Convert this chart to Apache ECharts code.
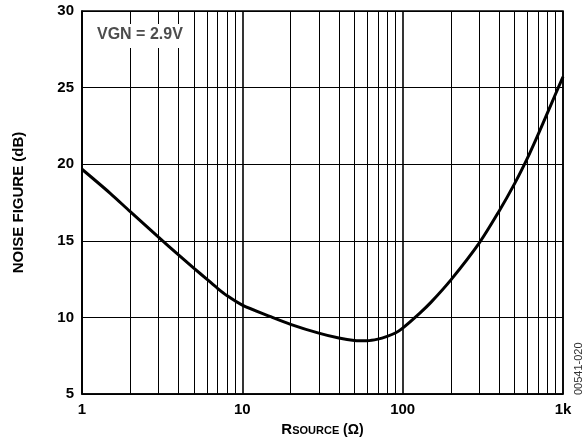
<!DOCTYPE html>
<html>
<head>
<meta charset="utf-8">
<script src="https://cdn.jsdelivr.net/npm/echarts@6/dist/echarts.min.js"></script>
<style>
html,body{margin:0;padding:0;background:#fff;}
#chart{width:584px;height:443px;}
</style>
</head>
<body>
<div id="chart"></div>
<script>
// Data
const rSource = [1, 1.5, 2, 3, 4, 5, 6, 7, 8, 10, 15, 20, 30, 40, 50, 60, 70, 80, 90, 100, 128, 150, 200, 300, 400, 500, 600, 700, 800, 900, 1000];
const noiseFigure = [19.67, 18.1, 16.9, 15.24, 14.08, 13.2, 12.5, 11.9, 11.43, 10.8, 10.05, 9.55, 8.97, 8.65, 8.5, 8.48, 8.58, 8.76, 8.98, 9.3, 10.28, 10.98, 12.45, 14.85, 16.95, 18.75, 20.4, 21.95, 23.35, 24.6, 25.7];
const minorGridX = [2,3,4,5,6,7,8,9,20,30,40,50,60,70,80,90,200,300,400,500,600,700,800,900];
const xTickLabels = {1: '1', 10: '10', 100: '100', 1000: '1k'};
const yTicks = [5, 10, 15, 20, 25, 30];

const font = 'Liberation Sans, Arial, sans-serif';
const chart = echarts.init(document.getElementById('chart'), null, {renderer: 'canvas'});
chart.setOption({
  animation: false,
  backgroundColor: '#fff',
  grid: {left: 82, right: 21, top: 11, bottom: 49, show: true, borderColor: '#000', borderWidth: 1.5, containLabel: false},
  xAxis: {
    type: 'log', logBase: 10, min: 1, max: 1000,
    axisLine: {show: true, lineStyle: {color: '#000', width: 1.5}},
    axisTick: {show: false},
    splitLine: {show: true, lineStyle: {color: '#000', width: 1.6}},
    axisLabel: {
      color: '#000', fontFamily: font, fontWeight: 'bold', fontSize: 15, margin: 8,
      formatter: v => xTickLabels[Math.round(v)] || ''
    },
    name: '{r|R}{s|SOURCE}{o| (Ω)}',
    nameLocation: 'middle', nameGap: 25,
    nameTextStyle: {
      rich: {
        r: {fontFamily: font, fontWeight: 'bold', fontSize: 15, color: '#000', verticalAlign: 'bottom'},
        s: {fontFamily: font, fontWeight: 'bold', fontSize: 11, color: '#000', padding: [6, 0, 0, 0], verticalAlign: 'bottom'},
        o: {fontFamily: font, fontWeight: 'bold', fontSize: 14, color: '#000', verticalAlign: 'bottom'}
      }
    }
  },
  yAxis: {
    type: 'value', min: yTicks[0], max: yTicks[yTicks.length - 1], interval: 5,
    axisLine: {show: true, lineStyle: {color: '#000', width: 1.5}},
    axisTick: {show: false},
    splitLine: {show: true, lineStyle: {color: '#000', width: 1}},
    axisLabel: {color: '#000', fontFamily: font, fontWeight: 'bold', fontSize: 15, margin: 8},
    name: 'NOISE FIGURE (dB)',
    nameLocation: 'middle', nameGap: 56, nameRotate: 90,
    nameTextStyle: {fontFamily: font, fontWeight: 'bold', fontSize: 15, color: '#000'}
  },
  series: [{
    type: 'line',
    data: rSource.map((r, i) => [r, noiseFigure[i]]),
    smooth: 0.3,
    symbol: 'none',
    lineStyle: {color: '#000', width: 3},
    z: 5,
    markLine: {
      silent: true, symbol: ['none', 'none'], label: {show: false},
      lineStyle: {color: '#000', width: 1, type: 'solid'},
      data: minorGridX.map(v => ({xAxis: v}))
    }
  }],
  graphic: [
    {type: 'rect', left: 84, top: 24, shape: {width: 106, height: 24}, style: {fill: '#fff'}, z: 10},
    {type: 'text', left: 97, top: 27, z: 11,
     style: {text: 'VGN = 2.9V', fill: '#4d4d4d', font: 'bold 16px ' + font}},
    {type: 'text', z: 11, x: 579, y: 395, rotation: Math.PI / 2,
     style: {text: '00541-020', fill: '#333', font: '11px ' + font, align: 'left', verticalAlign: 'middle'}}
  ]
});
</script>
</body>
</html>
